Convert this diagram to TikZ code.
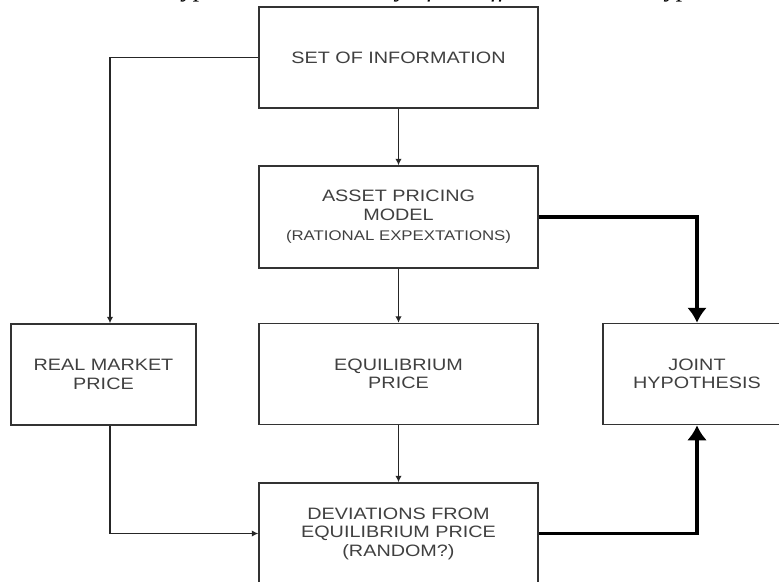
\documentclass[tikz,border=0pt]{standalone}
\usepackage{fontspec}
\setmainfont{Liberation Serif}
\newfontfamily\boxfont[FakeStretch=1.2]{Liberation Sans}
\usetikzlibrary{arrows.meta}

\begin{document}
\begin{tikzpicture}[x=1pt,y=-1pt,
	box/.style={draw=black!80,line width=1.5pt,minimum width=279pt,minimum height=101pt,inner sep=0pt,align=center,text=black!75,font=\boxfont\fontsize{16.5}{18.5}\selectfont},
	thin/.style={-{Latex[length=6.5pt,width=6.5pt]},line width=1.3pt,draw=black!85},
	heavy/.style={-{Latex[length=15pt,width=20pt]},line width=3.5pt}]
	\useasboundingbox (0,0) rectangle (779,581);

	%title (cut at the top)
	\node[anchor=base,inner sep=0pt,font=\itshape\fontsize{26.2}{30}\selectfont] (title) at (389.5,-4) {The combined hypothesis in the study of the effective market hypothesis};

	%middle column
	\node[box] (info) at (398.5,57.5) {SET OF INFORMATION};
	\node[box,minimum height=102pt] (model) at (398.5,217) {ASSET PRICING\\MODEL\\[2pt]{\fontsize{14}{16}\selectfont(RATIONAL EXPEXTATIONS)}};
	\node[box] (price) at (398.5,374) {EQUILIBRIUM\\PRICE};
	\node[box] (dev) at (398.5,533.5) {DEVIATIONS FROM\\EQUILIBRIUM PRICE\\(RANDOM?)};

	%side boxes
	\node[box,minimum width=185pt] (market) at (103.5,374.5) {REAL MARKET\\PRICE};
	\node[box,minimum width=188pt] (joint) at (697,374) {JOINT\\HYPOTHESIS};

	%thin arrows
	\coordinate (bend) at (110,57.5);
	\draw[thin] (info.west) -- (bend) -- (bend |- market.north);
	\draw[thin] (info) -- (model);
	\draw[thin] (model) -- (price);
	\draw[thin] (price) -- (dev);
	\draw[thin] (bend |- market.south) -- (bend |- dev.west) -- (dev.west);

	%thick arrows
	\draw[heavy] (model.east) -| (joint.north);
	\draw[heavy] (dev.east) -| (joint.south);
\end{tikzpicture}
\end{document}
